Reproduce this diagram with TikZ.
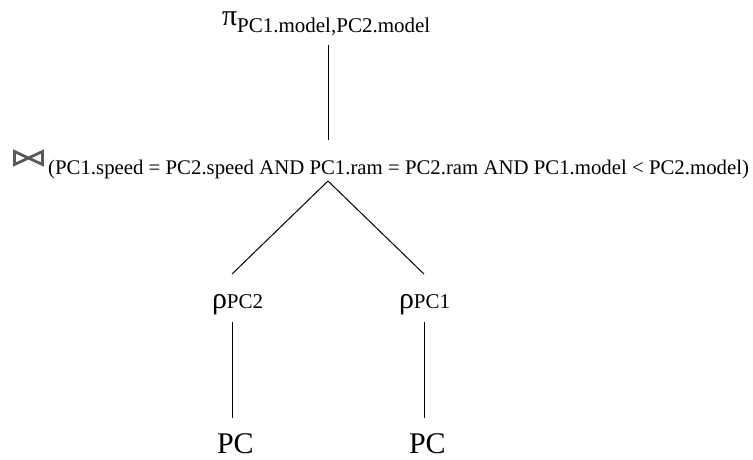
\documentclass[tikz,border=0pt]{standalone}
\usepackage{fontspec}
\setmainfont{Liberation Serif}
\newcommand{\mainsz}{\fontsize{30}{34}\selectfont}
\newcommand{\subsz}{\fontsize{21}{24}\selectfont}
\newcommand{\condsz}{\fontsize{20.8}{24}\selectfont}
\begin{document}
\begin{tikzpicture}[x=1pt,y=-1pt,
  lbl/.style={inner sep=0pt,outer sep=0pt,anchor=base west},
  edge/.style={draw=black,line width=1pt},
  bowtie/.style={draw=black!65,line width=2.8pt,line join=miter}]
\useasboundingbox (0,0) rectangle (753,459);
% nodes
\node[lbl] (proj) at (222,25) {\mainsz π\raisebox{-7pt}{\subsz PC1.model,PC2.model}};
\node[lbl,anchor=base east] (cond) at (749,174) {\condsz (PC1.speed = PC2.speed AND PC1.ram = PC2.ram AND PC1.model < PC2.model)};
\node[lbl] (rho2) at (212,308) {\mainsz ρ\subsz PC2};
\node[lbl] (rho1) at (399,308) {\mainsz ρ\subsz PC1};
\node[lbl] (pcl) at (217,453) {\mainsz PC};
\node[lbl] (pcr) at (409,453) {\mainsz PC};
% join symbol
\coordinate (bt) at (28.5,158);
\draw[bowtie] (14.5,151.5) -- (bt) -- (14.5,164.5) -- cycle;
\draw[bowtie] (42.5,151.5) -- (bt) -- (42.5,164.5) -- cycle;
% connector end points
\coordinate (projb) at (328,45);
\coordinate (jtop) at (328,140);
\coordinate (japex) at (328,181);
\coordinate (rho2t) at (232,274);
\coordinate (rho1t) at (424,274);
\coordinate (rho2b) at (232,322);
\coordinate (rho1b) at (424,322);
\coordinate (pclt) at (232,418);
\coordinate (pcrt) at (424,418);
% connectors
\draw[edge] (projb) -- (jtop);
\draw[edge] (japex) -- (rho2t);
\draw[edge] (japex) -- (rho1t);
\draw[edge] (rho2b) -- (pclt);
\draw[edge] (rho1b) -- (pcrt);
\end{tikzpicture}
\end{document}
